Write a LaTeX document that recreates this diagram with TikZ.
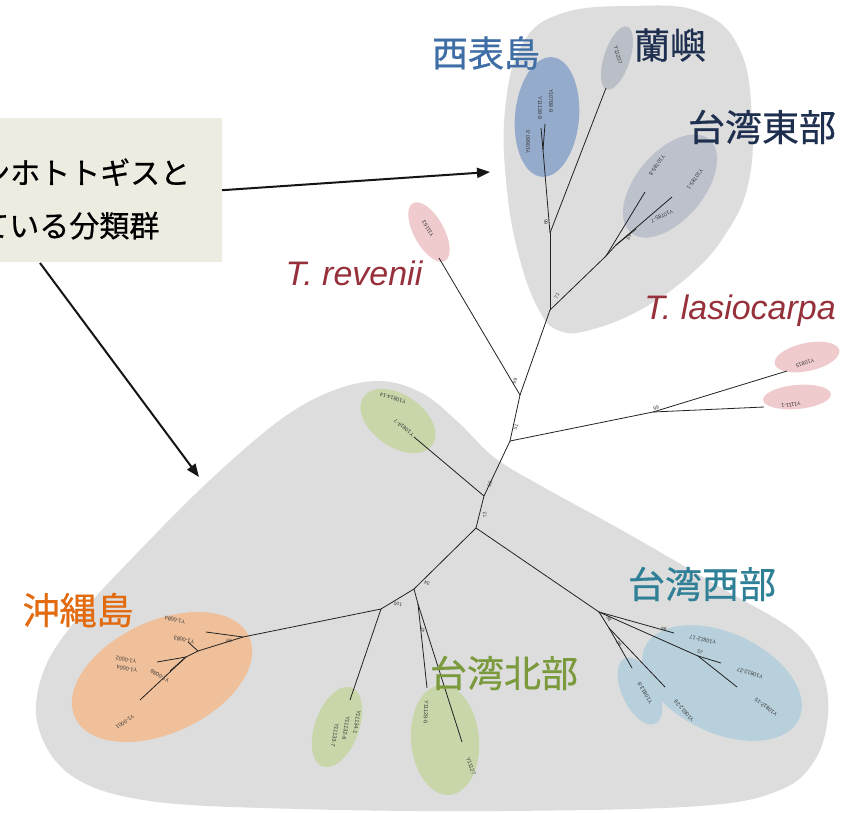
\documentclass[tikz,border=0pt]{standalone}
\usepackage{fontspec}
\setmainfont{Liberation Sans}
\newfontfamily\jp{Noto Sans CJK JP}[FakeBold=0.6]
\usetikzlibrary{shapes.geometric,arrows.meta}
\definecolor{blobgray}{HTML}{DDDDDD}
\definecolor{boxbg}{HTML}{EEECE1}
\definecolor{iricol}{HTML}{94ABCB}
\definecolor{lancol}{HTML}{BABEC6}
\definecolor{eastcol}{HTML}{BCC1CB}
\definecolor{pinkcol}{HTML}{EFCBCE}
\definecolor{greencol}{HTML}{C8D6AA}
\definecolor{orangecol}{HTML}{F0C09A}
\definecolor{westcol}{HTML}{B7D0DC}
\definecolor{treec}{HTML}{222222}
\definecolor{tipc}{HTML}{3A3A3A}
\definecolor{arrc}{HTML}{151515}
\definecolor{iritext}{HTML}{3F6EA6}
\definecolor{navytext}{HTML}{1F2F4F}
\definecolor{spred}{HTML}{96303A}
\definecolor{oktext}{HTML}{E26B10}
\definecolor{northtext}{HTML}{7A9A3C}
\definecolor{westtext}{HTML}{2F8097}
\begin{document}
\begin{tikzpicture}[x=1pt,y=-1pt,
  blob/.style={fill=blobgray,draw=none},
  clus/.style={ellipse,inner sep=0pt,draw=none},
  br/.style={draw=treec,line width=0.8pt},
  tip/.style={font=\fontsize{5.5}{5.5}\selectfont,text=tipc,inner sep=0pt},
  bs/.style={font=\fontsize{5}{5}\selectfont,text=tipc,inner sep=0pt},
  big/.style={font=\jp\fontsize{37}{40}\selectfont,inner sep=0pt},
  sp/.style={font=\fontsize{34}{36}\selectfont\itshape,text=spred,inner sep=0pt},
  arr/.style={-{Triangle[length=13pt,width=10pt]},line width=2pt,draw=arrc}]
\useasboundingbox (0,0) rectangle (859,812);
\clip (0,0) rectangle (859,812);
\fill[white] (0,0) rectangle (859,812);

% gray cluster regions
\fill[blob] plot[smooth cycle,tension=0.7] coordinates {
 (505,110) (522,45) (560,14) (630,6) (700,12) (740,50) (752,120) (748,185)
 (725,235) (690,275) (640,310) (590,330) (560,331) (540,312) (520,260) (507,190)};
\fill[blob] plot[smooth cycle,tension=0.6] coordinates {
 (380,381) (422,393) (458,422) (495,458) (545,488) (625,532) (725,590)
 (795,632) (822,672) (828,715) (815,760) (780,790) (700,806) (500,811)
 (300,809) (150,801) (72,776) (38,726) (44,670) (80,615) (140,550)
 (210,480) (280,420) (332,391)};

% cluster ellipses
\node[clus,fill=iricol,minimum width=64pt,minimum height=120pt,rotate=-5] (eiri) at (547,117) {};
\node[clus,fill=lancol,minimum width=66pt,minimum height=26pt,rotate=72] (elan) at (617,58) {};
\node[clus,fill=eastcol,minimum width=122pt,minimum height=68pt,rotate=50] (eeast) at (670,186) {};
\node[clus,fill=pinkcol,minimum width=66pt,minimum height=30pt,rotate=-61] (erev) at (429,232) {};
\node[clus,fill=pinkcol,minimum width=66pt,minimum height=28pt,rotate=12] (elas1) at (807,357) {};
\node[clus,fill=pinkcol,minimum width=68pt,minimum height=24pt,rotate=5] (elas2) at (797,397) {};
\node[clus,fill=greencol,minimum width=84pt,minimum height=52pt,rotate=-35] (eg1) at (398,421) {};
\node[clus,fill=orangecol,minimum width=192pt,minimum height=112pt,rotate=25] (eok) at (162,677) {};
\node[clus,fill=greencol,minimum width=84pt,minimum height=44pt,rotate=70] (eg2) at (337,727) {};
\node[clus,fill=greencol,minimum width=110pt,minimum height=68pt,rotate=95] (eg3) at (445,740) {};
\node[clus,fill=westcol,minimum width=72pt,minimum height=36pt,rotate=-65] (ew2) at (640,691) {};
\node[clus,fill=westcol,minimum width=170pt,minimum height=100pt,rotate=-25] (ew1) at (722,683) {};

% tree coordinates
\coordinate (n1) at (520,395);
\coordinate (n2) at (510,441);
\coordinate (n3) at (550,310);
\coordinate (n4) at (606,256);
\coordinate (n5) at (616,245);
\coordinate (t8) at (645,192);
\coordinate (t1) at (672,197);
\coordinate (t7) at (636,229);
\coordinate (n6) at (550,233);
\coordinate (tlan) at (606,88);
\coordinate (n7) at (543,150);
\coordinate (ti1) at (541,128);
\coordinate (ti2) at (545,124);
\coordinate (trev) at (439,258);
\coordinate (n8) at (653,412);
\coordinate (tl1) at (787,371);
\coordinate (tl2) at (764,407);
\coordinate (n9) at (484,496);
\coordinate (tg1) at (414,437);
\coordinate (n10) at (476,528);
\coordinate (n11) at (599,612);
\coordinate (t17) at (674,633);
\coordinate (n13) at (698,656);
\coordinate (t27) at (721,663);
\coordinate (t15) at (737,687);
\coordinate (n14) at (609,628);
\coordinate (t9) at (632,668);
\coordinate (t28) at (665,687);
\coordinate (n15) at (414,589);
\coordinate (n16) at (418,604);
\coordinate (tA) at (427,688);
\coordinate (tB) at (462,742);
\coordinate (n17) at (381,609);
\coordinate (tG3) at (350,700);
\coordinate (n18) at (243,637);
\coordinate (t84) at (206,632);
\coordinate (n19) at (198,651);
\coordinate (t83) at (188,642);
\coordinate (n21) at (186,657);
\coordinate (t02) at (157,662);
\coordinate (t88) at (170,671);
\coordinate (t01) at (140,700);

% branches
\draw[br] (n1) -- (n2);
\draw[br] (n1) -- (n3);
\draw[br] (n3) -- (n4);
\draw[br] (n4) -- (n5);
\draw[br] (n4) -- (t8);
\draw[br] (n5) -- (t1);
\draw[br] (n5) -- (t7);
\draw[br] (n3) -- (n6);
\draw[br] (n6) -- (tlan);
\draw[br] (n6) -- (n7);
\draw[br] (n7) -- (ti1);
\draw[br] (n7) -- (ti2);
\draw[br] (n1) -- (trev);
\draw[br] (n2) -- (n8);
\draw[br] (n8) -- (tl1);
\draw[br] (n8) -- (tl2);
\draw[br] (n2) -- (n9);
\draw[br] (n9) -- (tg1);
\draw[br] (n9) -- (n10);
\draw[br] (n10) -- (n11);
\draw[br] (n11) -- (t17);
\draw[br] (n11) -- (n13);
\draw[br] (n13) -- (t27);
\draw[br] (n13) -- (t15);
\draw[br] (n11) -- (n14);
\draw[br] (n14) -- (t9);
\draw[br] (n14) -- (t28);
\draw[br] (n10) -- (n15);
\draw[br] (n15) -- (n16);
\draw[br] (n16) -- (tA);
\draw[br] (n16) -- (tB);
\draw[br] (n15) -- (n17);
\draw[br] (n17) -- (tG3);
\draw[br] (n17) -- (n18);
\draw[br] (n18) -- (t84);
\draw[br] (n18) -- (n19);
\draw[br] (n19) -- (t83);
\draw[br] (n19) -- (n21);
\draw[br] (n21) -- (t02);
\draw[br] (n21) -- (t88);
\draw[br] (n21) -- (t01);

% bootstrap values
\node[bs,rotate=70] (b1) at (515,381) {99};
\node[bs,rotate=70] (b2) at (516,427) {51};
\node[bs,rotate=60] (b3) at (557,296) {71};
\node[bs,rotate=90] (b4) at (546,222) {66};
\node[bs,rotate=-120] (b5) at (629,237) {49};
\node[bs,rotate=10] (b6) at (656,408) {99};
\node[bs,rotate=70] (b7) at (490,484) {55};
\node[bs,rotate=100] (b8) at (485,515) {72};
\node[bs,rotate=160] (b9) at (427,583) {34};
\node[bs,rotate=170] (b10) at (398,604) {100};
\node[bs,rotate=90] (b11) at (423,630) {47};
\node[bs,rotate=170] (b12) at (229,641) {99};
\node[bs,rotate=-60] (b13) at (609,619) {88};
\node[bs,rotate=-60] (b14) at (619,644) {99};
\node[bs,rotate=-10] (b15) at (664,629) {86};
\node[bs,rotate=-25] (b16) at (700,652) {57};

% tip labels
\node[tip,rotate=-90] (lb1) at (551,101) {Y10788-9};
\node[tip,rotate=-90] (lb2) at (540,108) {Y11138-8};
\node[tip,rotate=90] (lb3) at (528,142) {Y10660-3};
\node[tip,rotate=-75] (lb4) at (618,55) {Y11207};
\node[tip,rotate=-125] (lb5) at (657,165) {Y10785-8};
\node[tip,rotate=-125] (lb6) at (695,179) {Y10785-1};
\node[tip,rotate=-155] (lb7) at (662,216) {Y10785-7};
\node[tip,rotate=120] (lb8) at (428,229) {Y11163};
\node[tip,rotate=-163] (lb9) at (805,363) {Y10815};
\node[tip,rotate=-173] (lb10) at (791,405) {Y1111-1};
\node[tip,rotate=163] (lb11) at (393,398) {Y10814-14};
\node[tip,rotate=140] (lb12) at (404,428) {Y10814-7};
\node[tip,rotate=-100] (lb13) at (357,722) {Y11134-1};
\node[tip,rotate=-100] (lb14) at (346,728) {Y11132-6};
\node[tip,rotate=-100] (lb15) at (335,735) {Y11133-7};
\node[tip,rotate=-92] (lb16) at (426,712) {Y11128-6};
\node[tip,rotate=-70] (lb17) at (471,766) {Y11127};
\node[tip,rotate=167] (lb18) at (175,620) {Y1-0084};
\node[tip,rotate=167] (lb19) at (184,640) {Y1-0083};
\node[tip,rotate=170] (lb20) at (126,660) {Y1-0002};
\node[tip,rotate=170] (lb21) at (127,669) {Y1-0004};
\node[tip,rotate=150] (lb22) at (160,676) {Y1-0088};
\node[tip,rotate=-147] (lb23) at (125,722) {Y1-0001};
\node[tip,rotate=168] (lb24) at (703,640) {Y10812-17};
\node[tip,rotate=163] (lb25) at (750,673) {Y10812-27};
\node[tip,rotate=142] (lb26) at (766,707) {Y10812-15};
\node[tip,rotate=120] (lb27) at (645,693) {Y10813-9};
\node[tip,rotate=131] (lb28) at (684,711) {Y10812-28};

% group labels
\node[big,text=iritext,font=\jp\fontsize{36}{40}\selectfont] (liri) at (486,53) {西表島};
\node[big,text=navytext,font=\jp\fontsize{36}{40}\selectfont] (llan) at (670,45) {蘭嶼};
\node[big,text=navytext] (least) at (762,127) {台湾東部};
\node[sp] (lrev) at (354,273) {T. revenii};
\node[sp] (llas) at (740,311) {T. lasiocarpa};
\node[big,text=oktext] (lok) at (78,610) {沖縄島};
\node[big,text=northtext] (lnorth) at (504,673) {台湾北部};
\node[big,text=westtext] (lwest) at (702,584) {台湾西部};

% annotation box and arrows
\node[fill=boxbg,anchor=north east,minimum width=340pt,minimum height=144pt,inner sep=0pt] (box) at (222,118) {};
\node[anchor=west,align=left,inner sep=0pt,text=black,font=\jp\fontsize{30}{53}\selectfont] (boxtxt) at (-110,199) {タイワンホトトギスと\\呼ばれている分類群};
\coordinate (a1e) at (490,172);
\coordinate (a2s) at (40,263);
\coordinate (a2e) at (199,477);
\draw[arr] (box.east) -- (a1e);
\draw[arr] (a2s) -- (a2e);
\end{tikzpicture}
\end{document}
